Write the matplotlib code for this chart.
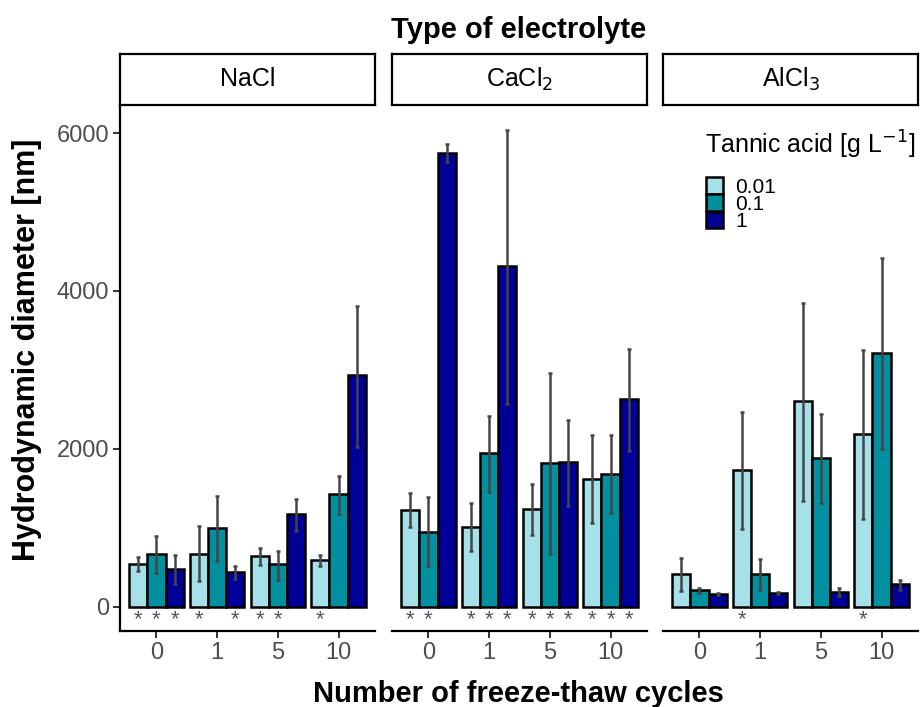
import numpy as np
import matplotlib.pyplot as plt
from matplotlib.patches import Patch

plt.rcParams["font.family"] = ["Liberation Sans", "DejaVu Sans"]

cycles = ["0", "1", "5", "10"]
tannic_levels = ["0.01", "0.1", "1"]
electrolytes = ["NaCl", "CaCl$_2$", "AlCl$_3$"]
bar_colors = ["#A6E1EA", "#00909F", "#000099"]

# mean hydrodynamic diameter [nm]; rows = tannic acid level, columns = cycles
nacl_mean = [[545, 672, 636, 590], [672, 999, 536, 1421], [481, 436, 1172, 2929]]
nacl_low = [[445, 318, 522, 509], [422, 581, 341, 1172], [286, 354, 958, 2021]]
nacl_high = [[627, 1022, 740, 654], [899, 1399, 708, 1649], [649, 513, 1367, 3815]]

cacl2_mean = [[1226, 1013, 1231, 1617], [945, 1944, 1817, 1685], [5749, 4314, 1830, 2625]]
cacl2_low = [[1013, 704, 913, 1058], [513, 1453, 672, 1181], [5631, 2566, 1272, 1966]]
cacl2_high = [[1435, 1317, 1558, 2171], [1390, 2420, 2956, 2180], [5858, 6045, 2362, 3261]]

alcl3_mean = [[409, 1726, 2602, 2184], [209, 409, 1889, 3215], [163, 173, 186, 286]]
alcl3_low = [[195, 981, 1344, 1104], [173, 209, 1317, 1999], [150, 160, 136, 209]]
alcl3_high = [[618, 2466, 3851, 3252], [241, 604, 2443, 4419], [176, 186, 232, 341]]

# significance marks (1 = asterisk below the bar)
nacl_star = [[1, 1, 1, 1], [1, 0, 1, 0], [1, 1, 0, 0]]
cacl2_star = [[1, 1, 1, 1], [1, 1, 1, 1], [0, 1, 1, 1]]
alcl3_star = [[0, 1, 0, 1], [0, 0, 0, 0], [0, 0, 0, 0]]

panels = [
    (nacl_mean, nacl_low, nacl_high, nacl_star),
    (cacl2_mean, cacl2_low, cacl2_high, cacl2_star),
    (alcl3_mean, alcl3_low, alcl3_high, alcl3_star),
]

W, H = 921, 707
fig = plt.figure(figsize=(W / 100, H / 100), dpi=100)

panel_left = [120, 392, 663]
panel_w = 255
panel_top, panel_bottom = 106, 631
bar_w = 0.3
x = np.arange(1, len(cycles) + 1)

for i, (mean, low, high, star) in enumerate(panels):
    ax = fig.add_axes([
        panel_left[i] / W,
        1 - panel_bottom / H,
        panel_w / W,
        (panel_bottom - panel_top) / H,
    ])
    for j in range(len(tannic_levels)):
        m = np.array(mean[j])
        lo = np.array(low[j])
        hi = np.array(high[j])
        xs = x + (j - 1) * bar_w
        ax.bar(xs, m, width=bar_w, color=bar_colors[j],
               edgecolor="black", linewidth=1.8, zorder=2)
        ax.errorbar(xs, m, yerr=[m - lo, hi - m], fmt="none",
                    ecolor="#454545", elinewidth=1.8, capsize=1.5,
                    capthick=1.8, zorder=3)
        for k in range(len(cycles)):
            if star[j][k]:
                ax.text(xs[k], -170, "*", ha="center", va="center",
                        fontsize=16, color="#555566", zorder=3)

    ax.set_xlim(0.4, 4.6)
    ax.set_ylim(-310, 6345)
    ax.set_xticks(x)
    ax.set_xticklabels(cycles)
    ax.tick_params(axis="x", length=5, width=1.4, color="#333333",
                   labelsize=17, labelcolor="#4D4D4D", pad=3)
    for s in ["top", "right"]:
        ax.spines[s].set_visible(False)
    ax.spines["bottom"].set_linewidth(1.6)
    if i == 0:
        ax.set_yticks([0, 2000, 4000, 6000])
        ax.tick_params(axis="y", length=5, width=1.4, color="#333333",
                       labelsize=17, labelcolor="#4D4D4D", pad=3)
        ax.spines["left"].set_linewidth(1.6)
    else:
        ax.set_yticks([])
        ax.spines["left"].set_visible(False)

    # facet strip
    sax = fig.add_axes([
        panel_left[i] / W,
        1 - 105 / H,
        panel_w / W,
        51 / H,
    ])
    sax.set_xticks([])
    sax.set_yticks([])
    for s in sax.spines.values():
        s.set_linewidth(1.6)
    sax.text(0.5, 0.5, electrolytes[i], ha="center", va="center",
             fontsize=18, transform=sax.transAxes)

fig.text(519 / W, 1 - 38 / H, "Type of electrolyte", ha="center",
         va="baseline", fontsize=21, fontweight="bold")
fig.text(518 / W, 1 - 702 / H, "Number of freeze-thaw cycles", ha="center",
         va="baseline", fontsize=21, fontweight="bold")
fig.text(27 / W, 1 - 350 / H, "Hydrodynamic diameter [nm]", ha="center",
         va="center", rotation=90, fontsize=22, fontweight="bold")

fig.text(705 / W, 1 - 154 / H, "Tannic acid [g L$^{-1}$]", ha="left",
         va="baseline", fontsize=18)
handles = [Patch(facecolor=c, edgecolor="black", linewidth=1.8) for c in bar_colors]
fig.legend(handles, tannic_levels, loc="upper left",
           bbox_to_anchor=(706 / W, 1 - 177 / H), frameon=False,
           fontsize=15, handlelength=0.8, handleheight=0.85,
           labelspacing=-0.1, handletextpad=0.6, borderpad=0,
           borderaxespad=0)

fig.savefig("out.png", dpi=100)
